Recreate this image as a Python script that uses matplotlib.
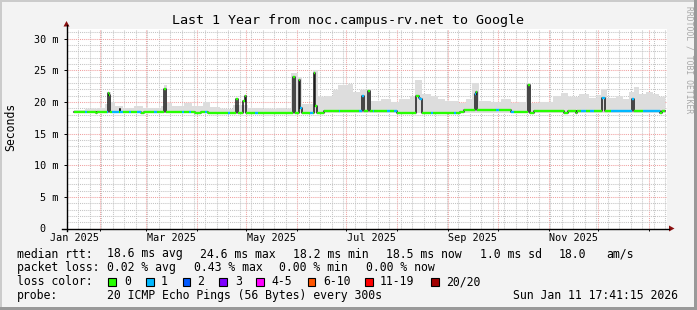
import matplotlib
matplotlib.use("Agg")
import matplotlib.pyplot as plt
import matplotlib.dates as mdates
from matplotlib.patches import Rectangle, Polygon
from matplotlib.lines import Line2D
from matplotlib.ticker import MultipleLocator, NullFormatter
import numpy as np
import pandas as pd

W, H = 697, 310

title = "Last 1 Year from noc.campus-rv.net to Google"
ylabel = "Seconds"
watermark = "RRDTOOL / TOBI OETIKER"
t_start = "2025-01-11 17:41:15"
t_end = "2026-01-11 17:41:15"

# median rtt as steps: start of step, value in ms, loss class
med_dates = [
    "2025-01-16 00:00", "2025-01-23 07:00", "2025-01-24 12:00", "2025-01-29 10:00", "2025-01-30 14:00", "2025-02-05 02:00",
    "2025-02-05 17:00", "2025-02-06 14:00", "2025-02-07 12:00", "2025-02-08 17:00", "2025-02-12 10:00", "2025-02-13 00:00",
    "2025-02-13 14:00", "2025-02-15 00:00", "2025-02-18 12:00", "2025-02-19 17:00", "2025-02-23 22:00", "2025-02-25 19:00",
    "2025-02-27 14:00", "2025-03-05 17:00", "2025-03-08 02:00", "2025-03-11 22:00", "2025-03-13 05:00", "2025-03-23 07:00",
    "2025-03-24 12:00", "2025-03-27 00:00", "2025-03-28 05:00", "2025-03-31 05:00", "2025-04-03 07:00", "2025-04-06 07:00",
    "2025-04-07 12:00", "2025-04-08 02:00", "2025-04-15 10:00", "2025-04-19 17:00", "2025-04-21 12:00", "2025-04-24 14:00",
    "2025-04-25 19:00", "2025-04-29 05:00", "2025-04-30 05:00", "2025-04-30 19:00", "2025-05-06 17:00", "2025-05-08 12:00",
    "2025-05-12 00:00", "2025-05-20 00:00", "2025-05-29 19:00", "2025-05-31 00:00", "2025-06-02 02:00", "2025-06-02 22:00",
    "2025-06-04 07:00", "2025-06-08 14:00", "2025-06-10 10:00", "2025-06-11 10:00", "2025-06-12 05:00", "2025-06-13 02:00",
    "2025-06-17 02:00", "2025-06-26 05:00", "2025-06-27 10:00", "2025-07-08 10:00", "2025-07-10 12:00", "2025-07-11 17:00",
    "2025-07-13 22:00", "2025-07-15 02:00", "2025-07-16 22:00", "2025-07-18 02:00", "2025-07-26 00:00", "2025-07-27 07:00",
    "2025-07-29 17:00", "2025-07-31 12:00", "2025-08-12 12:00", "2025-08-13 22:00", "2025-08-15 02:00", "2025-08-16 07:00",
    "2025-08-21 05:00", "2025-08-22 10:00", "2025-09-04 05:00", "2025-09-05 10:00", "2025-09-08 10:00", "2025-09-10 07:00",
    "2025-09-17 00:00", "2025-09-17 19:00", "2025-09-18 14:00", "2025-09-30 07:00", "2025-10-01 14:00", "2025-10-08 22:00",
    "2025-10-10 17:00", "2025-10-19 10:00", "2025-10-21 00:00", "2025-10-22 22:00", "2025-11-10 02:00", "2025-11-12 14:00",
    "2025-11-17 10:00", "2025-11-18 14:00", "2025-11-20 12:00", "2025-11-23 12:00", "2025-11-26 12:00", "2025-11-28 10:00",
    "2025-12-03 14:00", "2025-12-05 05:00", "2025-12-08 17:00", "2025-12-21 12:00", "2025-12-23 02:00", "2025-12-28 05:00",
    "2026-01-08 02:00", "2026-01-09 07:00",
]
med_ms = [
    18.4, 18.4, 18.4, 18.25, 18.4, 18.4,
    21.4, 21.15, 18.4, 18.4, 18.4, 18.8,
    18.4, 18.4, 18.4, 18.4, 18.4, 18.25,
    18.4, 18.4, 18.4, 22.0, 18.4, 18.4,
    18.4, 18.4, 18.4, 18.25, 18.4, 18.4,
    18.4, 18.25, 18.3, 18.3, 18.3, 20.4,
    18.3, 20.1, 20.9, 18.3, 18.3, 18.3,
    18.25, 18.3, 24.0, 18.3, 23.5, 19.1,
    18.3, 18.3, 18.3, 24.6, 19.3, 18.3,
    18.55, 18.55, 18.55, 18.55, 20.9, 18.55,
    21.7, 18.55, 18.55, 18.55, 18.55, 18.55,
    18.55, 18.3, 20.9, 20.6, 20.4, 18.3,
    18.3, 18.3, 18.3, 18.3, 18.4, 18.65,
    21.3, 21.6, 18.65, 18.65, 18.65, 18.35,
    18.4, 22.6, 18.3, 18.55, 18.3, 18.55,
    18.3, 18.55, 18.55, 18.55, 18.55, 18.55,
    20.6, 18.55, 18.55, 20.4, 18.55, 18.55,
    18.3, 18.55,
]
med_loss = [
    0, 1, 0, 0, 0, 1,
    0, 0, 0, 1, 0, 0,
    1, 0, 1, 0, 1, 0,
    0, 1, 0, 0, 0, 1,
    0, 1, 0, 0, 0, 1,
    0, 0, 0, 1, 0, 0,
    0, 0, 0, 0, 1, 0,
    0, 0, 0, 0, 0, 1,
    0, 1, 0, 0, 0, 0,
    0, 1, 0, 1, 1, 0,
    0, 0, 1, 0, 1, 0,
    1, 0, 0, 1, 1, 0,
    1, 0, 1, 0, 0, 0,
    1, 0, 0, 1, 0, 1,
    0, 0, 0, 0, 0, 0,
    0, 0, 1, 0, 1, 0,
    1, 0, 1, 1, 0, 1,
    0, 0,
]
med_end = "2026-01-11 00:00"

# upper edge of the grey smoke (max rtt), steps
smoke_dates = [
    "2025-01-16 00:00", "2025-01-23 07:00", "2025-01-30 12:00", "2025-02-04 00:00", "2025-02-05 17:00", "2025-02-08 00:00",
    "2025-02-10 00:00", "2025-02-15 00:00", "2025-02-22 00:00", "2025-02-27 00:00", "2025-03-04 00:00", "2025-03-10 00:00",
    "2025-03-11 18:00", "2025-03-13 14:00", "2025-03-17 00:00", "2025-03-24 00:00", "2025-03-29 00:00", "2025-04-05 00:00",
    "2025-04-09 00:00", "2025-04-15 00:00", "2025-04-23 00:00", "2025-05-02 00:00", "2025-05-11 00:00", "2025-05-19 00:00",
    "2025-05-25 00:00", "2025-05-28 14:00", "2025-06-01 07:00", "2025-06-03 17:00", "2025-06-10 10:00", "2025-06-14 00:00",
    "2025-06-18 00:00", "2025-06-23 00:00", "2025-06-26 00:00", "2025-07-02 00:00", "2025-07-05 00:00", "2025-07-09 14:00",
    "2025-07-15 17:00", "2025-07-21 19:00", "2025-07-27 22:00", "2025-08-01 17:00", "2025-08-09 00:00", "2025-08-11 12:00",
    "2025-08-15 17:00", "2025-08-21 05:00", "2025-08-26 00:00", "2025-08-30 07:00", "2025-09-07 05:00", "2025-09-11 12:00",
    "2025-09-15 17:00", "2025-09-19 10:00", "2025-09-26 17:00", "2025-10-02 19:00", "2025-10-08 22:00", "2025-10-13 17:00",
    "2025-10-18 00:00", "2025-10-21 14:00", "2025-10-27 00:00", "2025-11-03 10:00", "2025-11-08 07:00", "2025-11-13 00:00",
    "2025-11-19 05:00", "2025-11-25 07:00", "2025-11-30 05:00", "2025-12-02 17:00", "2025-12-06 07:00", "2025-12-11 19:00",
    "2025-12-16 00:00", "2025-12-19 17:00", "2025-12-22 17:00", "2025-12-25 19:00", "2025-12-30 00:00", "2026-01-03 07:00",
    "2026-01-06 22:00",
]
smoke_ms = [
    18.7, 18.9, 19.1, 19.6, 21.6, 20.0,
    19.4, 19.0, 19.4, 19.1, 19.0, 19.3,
    22.6, 19.8, 19.3, 19.8, 19.4, 19.9,
    19.2, 18.9, 19.5, 19.1, 18.9, 19.1,
    18.9, 24.5, 23.9, 19.6, 25.0, 20.7,
    21.0, 21.8, 22.6, 22.8, 21.5, 21.9,
    20.2, 20.5, 20.0, 20.4, 21.0, 23.4,
    21.3, 21.0, 20.5, 20.1, 19.8, 20.4,
    23.0, 20.2, 19.9, 20.4, 19.8, 20.0,
    23.0, 19.8, 20.0, 20.9, 21.4, 20.8,
    21.2, 20.6, 21.1, 22.1, 20.6, 20.9,
    20.5, 21.6, 22.4, 21.3, 21.6, 21.2,
    20.8,
]
smoke_floor = 18.2

loss_labels = ["0", "1", "2", "3", "4-5", "6-10", "11-19", "20/20"]
loss_colors = ["#26ff00", "#00b8ff", "#0059ff", "#7e00ff", "#ff00ff", "#ff5500", "#ff0000", "#a10000"]

label_months = ["2025-01-01", "2025-03-01", "2025-05-01", "2025-07-01", "2025-09-01", "2025-11-01"]
label_texts = ["Jan 2025", "Mar 2025", "May 2025", "Jul 2025", "Sep 2025", "Nov 2025"]

ytick_vals = [0, 5, 10, 15, 20, 25, 30]
ytick_texts = ["0  ", "5 m", "10 m", "15 m", "20 m", "25 m", "30 m"]

rtt_row = [("median rtt:", 16.7), ("18.6 ms avg", 107), ("24.6 ms max", 200), ("18.2 ms min", 293.3),
           ("18.5 ms now", 386), ("1.0 ms sd", 480), ("18.0", 558.3), ("am/s", 606.7)]
loss_row = [("packet loss:", 16.7), ("0.02 % avg", 107), ("0.43 % max", 194), ("0.00 % min", 279.3),
            ("0.00 % now", 366)]
probe_row = [("probe:", 16.7), ("20 ICMP Echo Pings (56 Bytes) every 300s", 107),
             ("Sun Jan 11 17:41:15 2026", 513.3)]
box_x = [108.3, 146, 182.5, 219.2, 255.8, 307.5, 365, 431]
box_lbl_x = [124, 160.7, 197.3, 235, 271.7, 323.3, 380, 445.7]


def fx(x):
    return x / W


def fy(y):
    return 1 - y / H


plt.rcParams['font.family'] = ['DejaVu Sans Mono']

fig = plt.figure(figsize=(W / 100, H / 100), dpi=100, facecolor='#f3f3f3')
ax = fig.add_axes([fx(66.5), fy(228.5), 600 / W, 200 / H])
ax.set_facecolor('white')

x0 = mdates.date2num(pd.to_datetime(t_start).to_pydatetime())
x1 = mdates.date2num(pd.to_datetime(t_end).to_pydatetime())
ax.set_xlim(x0, x1)
ax.set_ylim(0, 31.58)

# smoke
sx = mdates.date2num(pd.to_datetime(smoke_dates + [med_end]).to_pydatetime())
sy = np.array(smoke_ms + [smoke_ms[-1]])
ax.fill_between(sx, smoke_floor, sy, step='post', color='#dddddd', lw=0, zorder=2)

# median: dark verticals, coloured horizontals
mx = mdates.date2num(pd.to_datetime(med_dates + [med_end]).to_pydatetime())
my = np.array(med_ms + [med_ms[-1]])
ax.step(mx, my, where='post', color='#1a1a1a', lw=1.1, zorder=3)
ax.hlines(med_ms, mx[:-1], mx[1:], colors=[loss_colors[c] for c in med_loss], lw=1.7, zorder=4)

# grid
ax.xaxis.set_major_locator(mdates.MonthLocator())
ax.xaxis.set_minor_locator(mdates.WeekdayLocator(byweekday=mdates.SU))
ax.xaxis.set_major_formatter(NullFormatter())
ax.yaxis.set_major_locator(MultipleLocator(5))
ax.yaxis.set_minor_locator(MultipleLocator(1))
ax.set_yticks(ytick_vals)
ax.set_yticklabels(ytick_texts)
ax.grid(which='minor', color='#c4c4c4', ls=(0, (1, 1)), lw=0.75)
ax.grid(which='major', color='#f0a0a0', ls=(0, (1, 1)), lw=0.75)
ax.set_axisbelow(True)
ax.tick_params(axis='y', which='major', length=2.5, width=0.7, pad=3, labelsize=7.3, direction='out')
ax.tick_params(axis='x', which='major', length=1.5, width=0.7, direction='out')
ax.tick_params(which='minor', length=0)
for s in ax.spines.values():
    s.set_visible(False)

# month labels centred in their month
for m, t in zip(label_months, label_texts):
    a = pd.Timestamp(m)
    mid = a + (a + pd.offsets.MonthBegin(1) - a) / 2
    ax.text(mdates.date2num(mid.to_pydatetime()), (228.5 - 241) / 200, t, ha='center', va='baseline',
            fontsize=7.3, transform=ax.get_xaxis_transform(), clip_on=False)

# axes with arrows
fig.add_artist(Line2D([fx(66.5), fx(66.5)], [fy(231), fy(25)], color='black', lw=1.0, transform=fig.transFigure))
fig.add_artist(Line2D([fx(62), fx(669)], [fy(228.5), fy(228.5)], color='black', lw=1.0, transform=fig.transFigure))
fig.add_artist(Polygon([(fx(63.5), fy(26.5)), (fx(69.5), fy(26.5)), (fx(66.5), fy(21))], closed=True,
                       fc='#8b1010', ec='none', transform=fig.transFigure))
fig.add_artist(Polygon([(fx(669), fy(225.5)), (fx(669), fy(231.5)), (fx(674.5), fy(228.5))], closed=True,
                       fc='#8b1010', ec='none', transform=fig.transFigure))

# texts
fig.text(fx(348), fy(24), title, ha='center', va='baseline', fontsize=9.6)
fig.text(fx(11), fy(127), ylabel, ha='center', va='center', rotation=90, fontsize=8.3)
fig.text(fx(689.5), fy(6), watermark, ha='center', va='top', rotation=-90, fontsize=5.8, color='#a8a8a8')

for txt, x in rtt_row:
    fig.text(fx(x), fy(257.5), txt, ha='left', va='baseline', fontsize=8.3)
for txt, x in loss_row:
    fig.text(fx(x), fy(271.3), txt, ha='left', va='baseline', fontsize=8.3)
fig.text(fx(16.7), fy(285.3), "loss color:", ha='left', va='baseline', fontsize=8.3)
for lbl, col, bx, lx in zip(loss_labels, loss_colors, box_x, box_lbl_x):
    fig.add_artist(Rectangle((fx(bx), fy(286)), 7.7 / W, 7.7 / H, fc=col, ec='black', lw=0.8,
                             transform=fig.transFigure))
    fig.text(fx(lx), fy(285.3), lbl, ha='left', va='baseline', fontsize=8.3)
for txt, x in probe_row:
    fig.text(fx(x), fy(299.2), txt, ha='left', va='baseline', fontsize=8.3)

# 3d-ish frame
fig.add_artist(Rectangle((0, 0), fx(2), 1, fc='#cbcbcb', ec='none', transform=fig.transFigure))
fig.add_artist(Rectangle((0, fy(2)), 1, 2 / H, fc='#cbcbcb', ec='none', transform=fig.transFigure))
fig.add_artist(Rectangle((1 - 3 / W, 0), 3 / W, 1, fc='#999999', ec='none', transform=fig.transFigure))
fig.add_artist(Rectangle((0, 0), 1, 3 / H, fc='#999999', ec='none', transform=fig.transFigure))

fig.savefig('out.png', dpi=100, facecolor=fig.get_facecolor())
